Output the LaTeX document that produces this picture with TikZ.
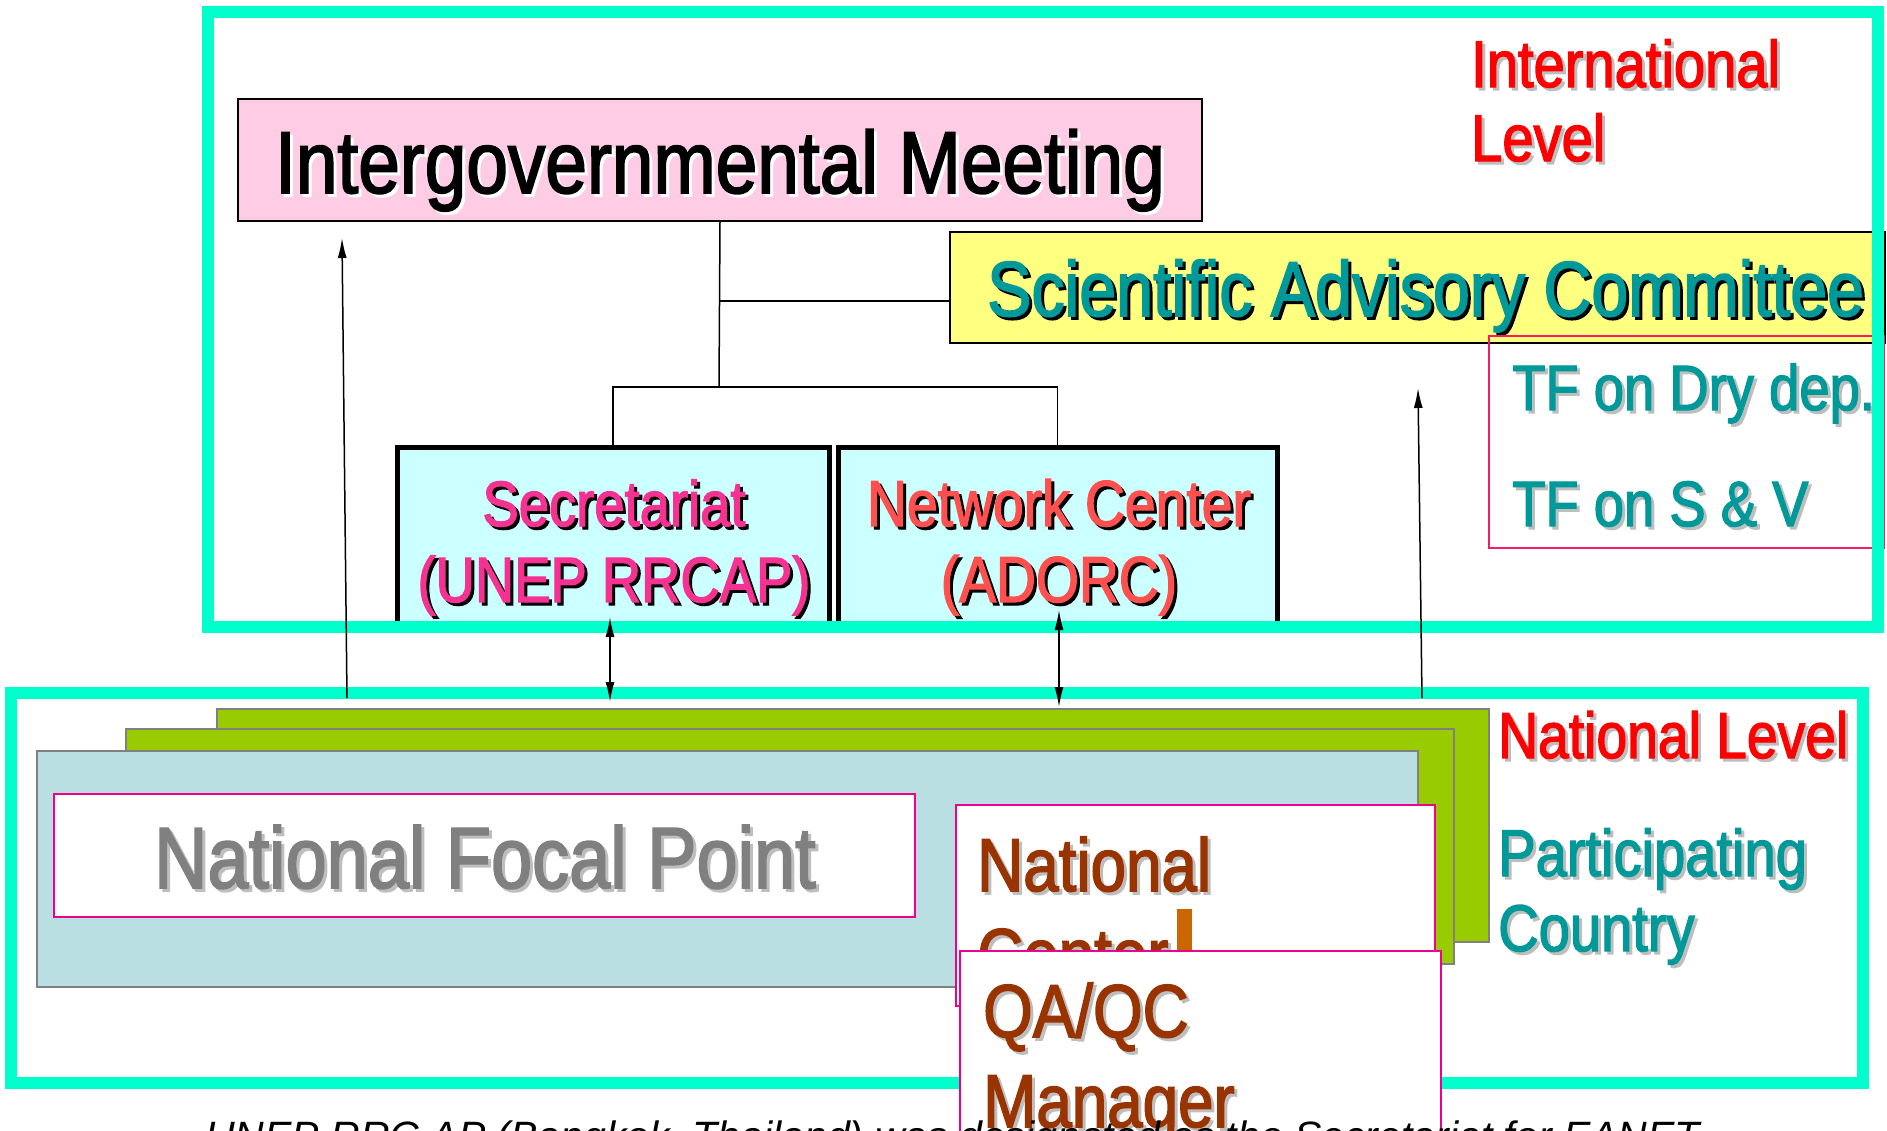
\documentclass[tikz,border=0pt]{standalone}
\usepackage{fontspec}
\usepackage{xcolor}
\usepackage{tikz}
\setmainfont{Liberation Sans}[FakeStretch=0.85,FakeBold=2]
\newfontfamily\notefont{Liberation Sans}
\usetikzlibrary{positioning,arrows.meta}

\definecolor{frameaqua}{RGB}{0,255,204}
\definecolor{igmpink}{RGB}{255,204,230}
\definecolor{sacyellow}{RGB}{255,255,128}
\definecolor{officecyan}{RGB}{204,255,255}
\definecolor{textteal}{RGB}{0,153,153}
\definecolor{secpink}{RGB}{245,50,145}
\definecolor{netred}{RGB}{255,80,80}
\definecolor{stackgreen}{RGB}{153,204,0}
\definecolor{stackblue}{RGB}{186,223,226}
\definecolor{stackgray}{RGB}{128,128,128}
\definecolor{ncbrown}{RGB}{153,51,0}
\definecolor{cursororange}{RGB}{204,102,0}
\definecolor{tfcrimson}{RGB}{240,30,100}
\definecolor{shade}{RGB}{190,190,190}

% font size in px, and text with a drop shadow
\newcommand{\pxfont}[1]{\fontsize{#1}{#1}\selectfont}
\newcommand{\shadowtext}[3]{\rlap{\kern3pt\lower3pt\hbox{\textcolor{#1}{#3}}}\textcolor{#2}{#3}}

\begin{document}
\begin{tikzpicture}[x=1pt, y=-1pt, >={Latex[length=20pt,width=9pt]},
    box/.style={draw, rectangle, inner sep=0pt, outer sep=0pt, anchor=north west},
    level/.style={box, draw=frameaqua, line width=12pt},
    office/.style={box, line width=5pt, fill=officecyan},
    stack/.style={box, draw=stackgray, line width=2pt},
    panel/.style={box, draw=magenta, line width=2pt, fill=white},
    link/.style={line width=1.5pt},
    txt/.style={inner sep=0pt, anchor=base west}]
    \useasboundingbox (0,0) rectangle (1887,1130);
    \clip (0,0) rectangle (1887,1130);

    % international level
    \node [box, line width=1.5pt, fill=igmpink, minimum width=964pt, minimum height=122pt] (igm) at (238,99) {};
    \node [txt, anchor=base, font=\pxfont{88}] (igmtext) at (720,193) {\shadowtext{white}{black}{Intergovernmental Meeting}};

    \node [box, line width=2pt, fill=sacyellow, minimum width=935pt, minimum height=111pt] (sac) at (950,232) {};
    \node [txt, font=\pxfont{78}] (sactext) at (987,316) {\shadowtext{black}{textteal}{Scientific Advisory Committee}};

    \node [box, draw=tfcrimson, line width=1.5pt, minimum width=395pt, minimum height=212pt] (tf) at (1489,336) {};
    \node [txt, font=\pxfont{64}] (tfdry) at (1512,410) {\shadowtext{shade}{textteal}{TF on Dry dep.}};
    \node [txt, font=\pxfont{64}] (tfsv) at (1512,526) {\shadowtext{shade}{textteal}{TF on S \& V}};

    \node [office, minimum width=432pt, minimum height=180pt] (sec) at (397,447) {};
    \node [txt, anchor=base, font=\pxfont{64}] (sec1) at (614,526) {\shadowtext{black}{secpink}{Secretariat}};
    \node [txt, anchor=base, font=\pxfont{64}] (sec2) at (614,602) {\shadowtext{black}{secpink}{(UNEP RRCAP)}};

    \node [office, minimum width=439pt, minimum height=180pt] (net) at (838,447) {};
    \node [txt, anchor=base, font=\pxfont{65}] (net1) at (1059,526) {\shadowtext{black}{netred}{Network Center}};
    \node [txt, anchor=base, font=\pxfont{65}] (net2) at (1059,602) {\shadowtext{black}{netred}{(ADORC)}};

    \node [txt, font=\pxfont{66}] (intl1) at (1471,87) {\shadowtext{shade}{red}{International}};
    \node [txt, font=\pxfont{66}] (intl2) at (1471,161) {\shadowtext{shade}{red}{Level}};

    \coordinate (sacjoin) at (719,301);
    \coordinate (split) at (719,387);
    \draw [link] (igm.south) -- (split);
    \draw [link] (sacjoin) -- (sacjoin -| sac.west);
    \draw [link] (sec.north) |- (split) -| (net.north);

    \node [level, minimum width=1670pt, minimum height=615pt] (intl) at (208,12) {};

    % national level
    \node [level, minimum width=1852pt, minimum height=390pt] (natl) at (11,693) {};

    \node [stack, fill=stackgreen, minimum width=1272pt, minimum height=233pt] (back) at (217,709) {};
    \node [stack, fill=stackgreen, minimum width=1328pt, minimum height=235pt] (middle) at (126,729) {};
    \node [stack, fill=stackblue, minimum width=1381pt, minimum height=236pt] (front) at (37,751) {};

    \node [panel, minimum width=861pt, minimum height=123pt] (nfp) at (54,794) {};
    \node [txt, anchor=base, font=\pxfont{87}] (nfptext) at (485,888) {\shadowtext{shade}{stackgray}{National Focal Point}};

    \node [txt, font=\pxfont{65}] (natlv) at (1498,758) {\shadowtext{shade}{red}{National Level}};
    \node [txt, font=\pxfont{66}] (part1) at (1498,876) {\shadowtext{shade}{textteal}{Participating}};
    \node [txt, font=\pxfont{66}] (part2) at (1498,951) {\shadowtext{shade}{textteal}{Country}};

    \node [panel, minimum width=479pt, minimum height=201pt] (nc) at (956,805) {};
    \node [txt, font=\pxfont{75}] (nc1) at (977,891) {\shadowtext{shade}{ncbrown}{National}};
    \node [txt, font=\pxfont{75}] (nc2) at (977,981) {\shadowtext{shade}{ncbrown}{Center}};
    \node [box, draw=none, fill=cursororange, minimum width=15pt, minimum height=42pt] (cursor) at (1177,909) {};

    \node [panel, minimum width=481pt, minimum height=200pt] (qa) at (960,951) {};
    \node [txt, font=\pxfont{75}] (qa1) at (983,1037) {\shadowtext{shade}{ncbrown}{QA/QC}};
    \node [txt, font=\pxfont{75}] (qa2) at (983,1127) {\shadowtext{shade}{ncbrown}{Manager}};

    % links between the two levels
    \coordinate (igmin) at (342,238);
    \coordinate (igmout) at (347,698);
    \coordinate (sacin) at (1418,388);
    \coordinate (sacout) at (1422,698);
    \coordinate (secend) at (610,617);
    \coordinate (secnat) at (610,702);
    \coordinate (netend) at (1059,610);
    \coordinate (netnat) at (1059,707);
    \draw [link, ->] (igmout) -- (igmin);
    \draw [link, ->] (sacout) -- (sacin);
    \draw [link, <->] (secend) -- (secnat);
    \draw [link, <->] (netend) -- (netnat);

    \node [txt, font=\notefont\itshape\pxfont{41}] (note) at (205,1150) {UNEP RRC.AP (Bangkok, Thailand) was designated as the Secretariat for EANET};
\end{tikzpicture}
\end{document}
